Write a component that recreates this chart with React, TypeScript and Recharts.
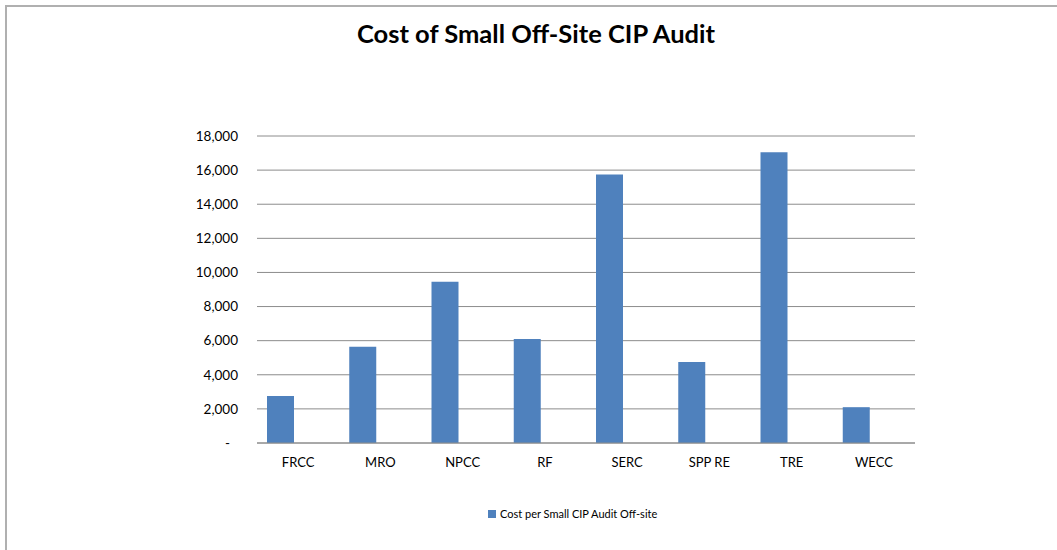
import { BarChart, Bar, XAxis, YAxis, CartesianGrid, Legend } from "recharts";

const regions = ["FRCC", "MRO", "NPCC", "RF", "SERC", "SPP RE", "TRE", "WECC"];
const costPerAudit = [2750, 5650, 9450, 6100, 15750, 4750, 17050, 2100];
const yTicks = [0, 2000, 4000, 6000, 8000, 10000, 12000, 14000, 16000, 18000];

const SERIES_NAME = "Cost per Small CIP Audit Off-site";
const BLUE = "#4F81BD";
const GRID = "#8c8c8c";
const FONT = "Lato, 'Open Sans', sans-serif";

const data = regions.map((r, i) => ({ region: r, cost: costPerAudit[i] }));

const YTick = ({ x, y, payload }: any) => {
  const v = payload.value as number;
  return (
    <text
      x={v === 0 ? x - 8 : x}
      y={y}
      dy="0.35em"
      textAnchor="end"
      fill="#000"
      fontSize={13.5}
      fontFamily={FONT}
    >
      {v === 0 ? "-" : v.toLocaleString("en-US")}
    </text>
  );
};

const LegendBox = () => (
  <div style={{ display: "flex", alignItems: "center", gap: 4 }}>
    <div style={{ width: 8, height: 8, background: BLUE }} />
    <span style={{ fontSize: 11, fontFamily: FONT, color: "#000", whiteSpace: "nowrap" }}>{SERIES_NAME}</span>
  </div>
);

export default function App() {
  return (
    <div style={{ position: "absolute", left: 0, top: 0, width: 1057, height: 550, overflow: "hidden", background: "#fff" }}>
      <div
        style={{
          position: "absolute",
          left: 5,
          top: 5,
          width: 1100,
          height: 600,
          borderTop: "2px solid #b0b0b0",
          borderLeft: "2px solid #b0b0b0",
        }}
      />
      <div
        style={{
          position: "absolute",
          left: 0,
          top: 18,
          width: 1072,
          textAlign: "center",
          fontFamily: FONT,
          fontWeight: 700,
          fontSize: 25.5,
          color: "#000",
        }}
      >
        Cost of Small Off-Site CIP Audit
      </div>
      <div style={{ position: "absolute", left: 0, top: 0 }}>
        <BarChart
          width={1057}
          height={550}
          data={data}
          margin={{ top: 136, right: 142, bottom: 77, left: 197 }}
          barSize={27}
          barGap={8}
        >
          <CartesianGrid vertical={false} stroke={GRID} strokeWidth={1} />
          <XAxis
            dataKey="region"
            height={30}
            tickLine={false}
            axisLine={{ stroke: GRID }}
            tickMargin={9}
            tick={{ fill: "#000", fontSize: 13, fontFamily: FONT }}
          />
          <YAxis
            width={60}
            domain={[0, 18000]}
            ticks={yTicks}
            axisLine={false}
            tickLine={false}
            tickMargin={13}
            tick={<YTick />}
          />
          <Legend
            verticalAlign="middle"
            wrapperStyle={{ top: 507, left: 488, width: 200 }}
            content={<LegendBox />}
          />
          <Bar dataKey="cost" name={SERIES_NAME} fill={BLUE} isAnimationActive={false} />
          <Bar dataKey="empty" legendType="none" fill="none" isAnimationActive={false} />
        </BarChart>
      </div>
    </div>
  );
}
